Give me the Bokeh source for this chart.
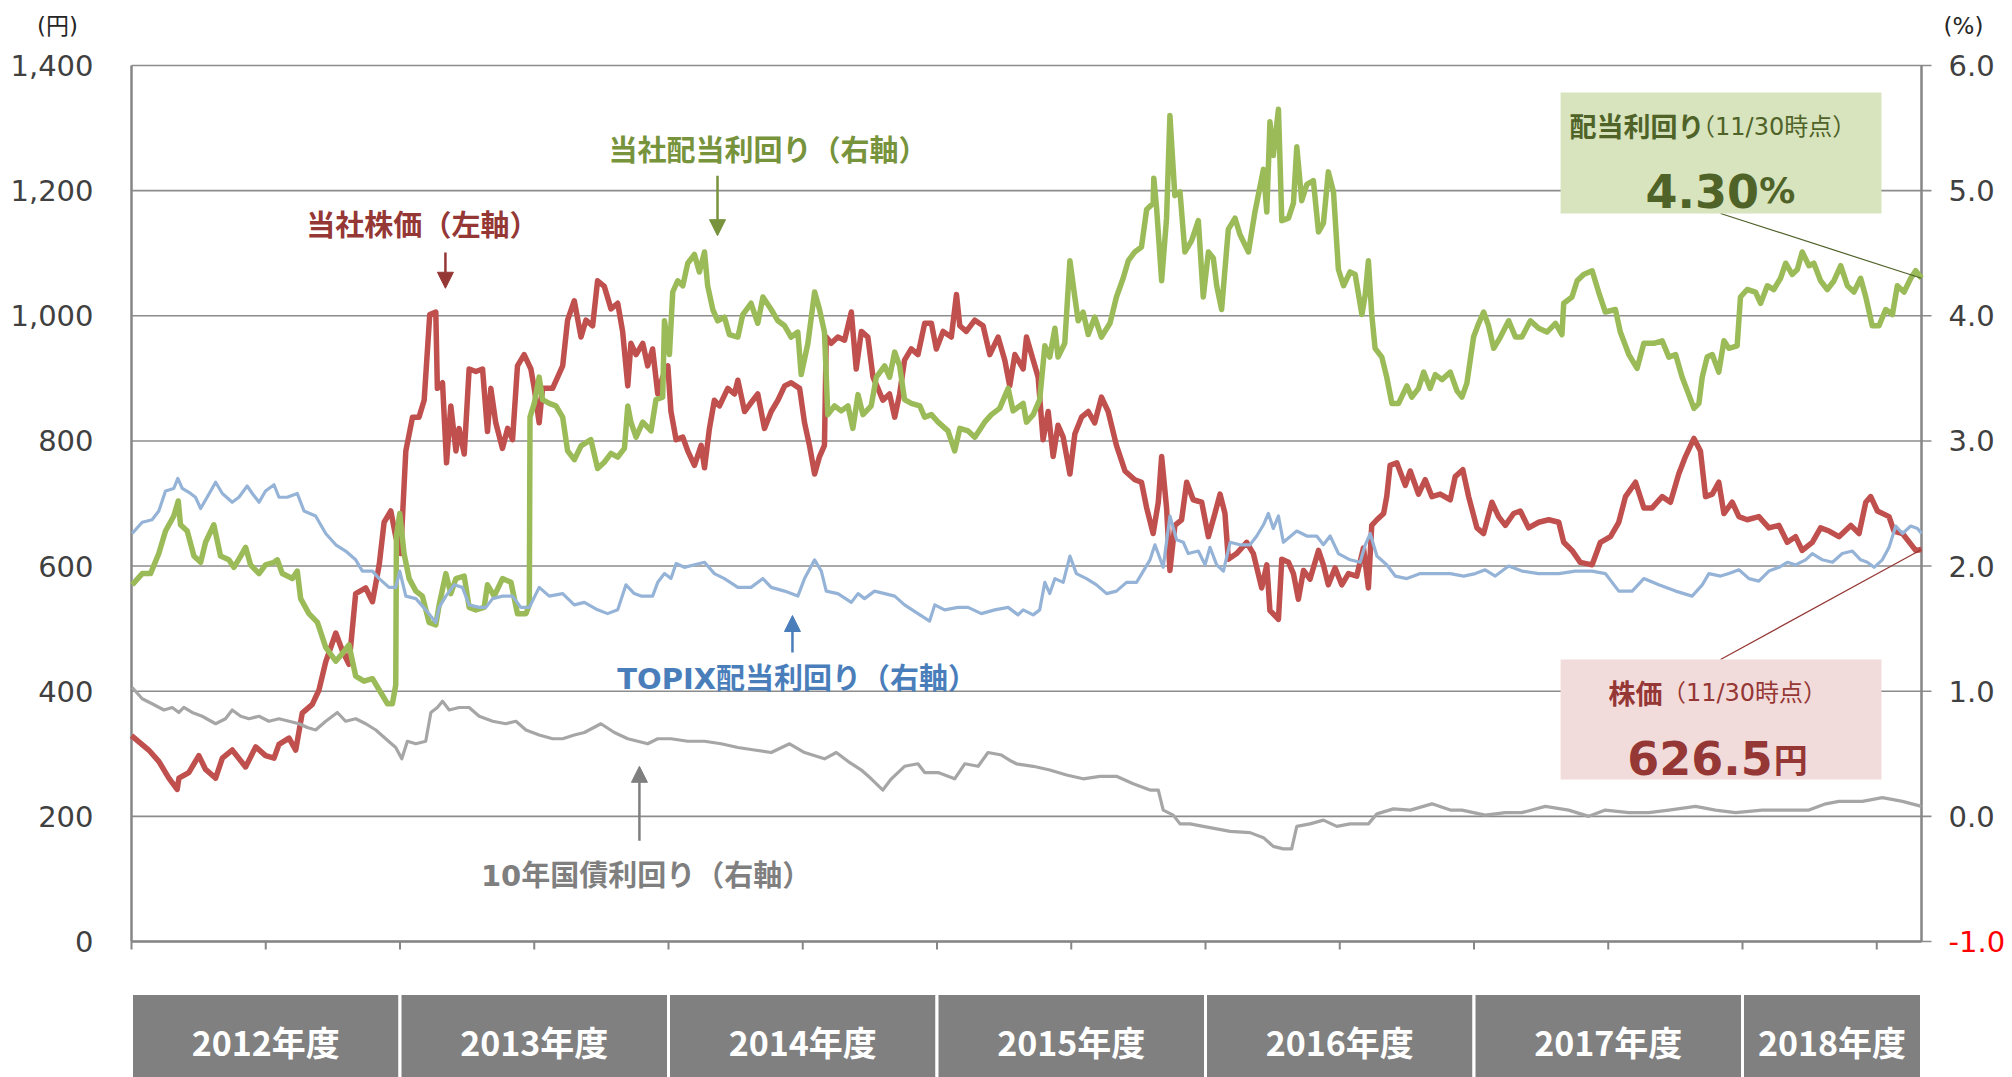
from bokeh.plotting import figure
from bokeh.models import Range1d, Label, Arrow, NormalHead
from bokeh.core.properties import value
from bokeh.embed import file_html
from bokeh.resources import INLINE

# ---------------- data (x = months since 2012-04-01) ----------------
fiscal_years = ["2012年度", "2013年度", "2014年度", "2015年度", "2016年度", "2017年度", "2018年度"]
fy_start_month = [0, 12, 24, 36, 48, 60, 72]
last_month = 80  # 2018-11-30

left_ticks = [0, 200, 400, 600, 800, 1000, 1200, 1400]
right_ticks = [-1, 0, 1, 2, 3, 4, 5, 6]
unit_labels = ["(円)", "(%)"]

# 当社株価 (円, left axis)
price = [
    (0.0,329),(0.77,306),(1.22,288),(1.67,261),(2.04,243),(2.12,261),(2.56,270),(3.01,297),
    (3.31,275),(3.76,261),(4.06,293),(4.50,306),(5.10,279),(5.55,311),(5.99,297),(6.37,293),
    (6.59,315),(7.04,325),(7.34,306),(7.63,365),(8.08,379),(8.38,402),(8.68,447),(9.13,493),
    (9.42,465),(9.72,443),(10.02,556),(10.47,565),(10.77,543),(11.07,602),(11.29,670),(11.59,688),
    (11.81,647),(12.03,620),(12.26,784),(12.56,838),(12.85,838),(13.08,865),(13.33,1002),(13.60,1006),
    (13.67,884),(13.90,893),(14.08,765),(14.27,856),(14.50,784),(14.64,820),(14.87,779),(15.09,915),
    (15.39,911),(15.69,915),(15.91,815),(16.06,884),(16.28,829),(16.58,788),(16.81,820),(17.03,802),
    (17.25,920),(17.55,938),(17.85,915),(18.00,884),(18.22,829),(18.37,884),(18.82,884),(19.27,920),
    (19.49,993),(19.79,1024),(20.09,966),(20.31,993),(20.61,984),(20.83,1056),(21.13,1047),(21.43,1011),
    (21.73,1020),(21.95,975),(22.18,888),(22.32,956),(22.55,938),(22.85,956),(23.07,920),(23.29,947),
    (23.52,875),(23.74,902),(23.97,920),(24.11,847),(24.34,802),(24.64,806),(24.86,784),(25.16,761),
    (25.46,793),(25.61,757),(25.83,820),(26.05,865),(26.28,856),(26.65,884),(26.95,875),(27.10,897),
    (27.40,847),(27.69,861),(27.99,875),(28.29,820),(28.59,847),(28.89,865),(29.19,888),(29.48,893),
    (29.86,884),(30.08,829),(30.30,793),(30.53,747),(30.75,775),(30.97,793),(31.05,966),(31.27,956),
    (31.57,966),(31.87,961),(32.17,1006),(32.39,915),(32.62,975),(32.91,966),(33.14,902),(33.36,884),
    (33.58,865),(33.88,875),(34.11,838),(34.33,875),(34.55,929),(34.85,947),(35.15,938),(35.45,988),
    (35.75,988),(35.97,947),(36.27,975),(36.64,966),(36.87,1034),(37.02,984),(37.31,975),(37.69,993),
    (38.06,984),(38.36,938),(38.73,966),(39.03,929),(39.25,888),(39.48,938),(39.85,915),(40.00,966),
    (40.30,929),(40.52,902),(40.74,802),(40.97,847),(41.19,775),(41.41,825),(41.64,806),(41.94,747),
    (42.16,811),(42.46,838),(42.76,847),(43.05,829),(43.35,870),(43.65,847),(44.02,793),(44.40,752),
    (44.84,738),(45.14,734),(45.37,693),(45.66,652),(45.89,702),(46.04,775),(46.26,693),(46.41,593),
    (46.63,665),(46.93,674),(47.16,734),(47.45,706),(47.83,702),(48.13,647),(48.42,684),(48.65,715),
    (48.87,684),(49.02,611),(49.39,620),(49.84,638),(50.14,620),(50.51,565),(50.74,602),(50.88,529),
    (51.26,515),(51.41,611),(51.71,606),(51.93,588),(52.15,547),(52.38,593),(52.67,579),(53.05,625),
    (53.27,602),(53.49,570),(53.79,597),(54.09,570),(54.39,588),(54.76,584),(55.06,629),(55.28,565),
    (55.43,665),(55.66,674),(55.96,684),(56.10,711),(56.25,761),(56.55,765),(56.93,729),(57.15,752),
    (57.52,715),(57.82,738),(58.12,711),(58.49,715),(58.94,706),(59.16,743),(59.50,754),(59.76,711),
    (60.13,661),(60.43,652),(60.80,702),(61.10,679),(61.40,665),(61.77,684),(62.07,688),(62.44,661),
    (62.89,670),(63.34,674),(63.79,670),(64.01,638),(64.38,625),(64.75,606),(65.28,602),(65.65,638),
    (66.10,647),(66.47,670),(66.77,711),(67.22,734),(67.59,693),(67.96,693),(68.41,711),(68.78,702),
    (69.15,747),(69.45,775),(69.83,804),(70.12,784),(70.35,711),(70.65,715),(70.94,734),(71.17,684),
    (71.54,702),(71.84,679),(72.21,674),(72.73,679),(73.18,661),(73.63,665),(74.00,638),(74.37,647),
    (74.67,625),(75.12,638),(75.49,661),(75.87,656),(76.31,647),(76.84,665),(77.21,652),(77.51,702),
    (77.73,711),(78.03,688),(78.55,679),(78.77,656),(79.15,652),(79.74,625),(80.0,626.5),
]

# 当社配当利回り (%, right axis)
div_yield = [
    (0.03,1.85),(0.48,1.94),(0.85,1.94),(1.22,2.10),(1.52,2.28),(1.89,2.40),(2.09,2.52),(2.19,2.33),
    (2.49,2.28),(2.79,2.08),(3.09,2.03),(3.31,2.19),(3.68,2.33),(3.98,2.08),(4.35,2.05),(4.58,1.99),
    (4.88,2.08),(5.10,2.15),(5.32,2.01),(5.70,1.94),(5.99,2.01),(6.37,2.03),(6.52,2.05),(6.74,1.94),
    (7.19,1.90),(7.41,1.96),(7.56,1.74),(7.93,1.62),(8.31,1.55),(8.68,1.35),(9.13,1.24),(9.42,1.30),
    (9.72,1.37),(10.02,1.12),(10.39,1.08),(10.77,1.10),(11.14,0.99),(11.44,0.90),(11.66,0.90),(11.81,1.05),
    (11.84,2.24),(11.99,2.42),(12.18,2.10),(12.41,1.90),(12.71,1.80),(13.00,1.76),(13.30,1.55),(13.60,1.53),
    (13.75,1.69),(14.05,1.94),(14.27,1.78),(14.50,1.90),(14.87,1.92),(15.09,1.67),(15.39,1.65),(15.76,1.67),
    (15.91,1.85),(16.21,1.76),(16.58,1.90),(16.96,1.87),(17.25,1.62),(17.63,1.62),(17.78,1.69),(17.81,3.19),
    (18.00,3.30),(18.22,3.51),(18.37,3.33),(18.67,3.30),(18.97,3.28),(19.27,3.19),(19.49,2.92),(19.79,2.85),
    (20.09,2.96),(20.53,3.01),(20.83,2.78),(21.13,2.83),(21.43,2.90),(21.73,2.87),(22.03,2.94),(22.18,3.28),
    (22.32,3.15),(22.55,3.03),(22.85,3.15),(23.22,3.08),(23.44,3.33),(23.74,3.35),(23.82,3.96),(24.04,3.69),
    (24.19,4.19),(24.41,4.28),(24.64,4.24),(24.86,4.42),(25.16,4.49),(25.38,4.35),(25.61,4.51),(25.75,4.24),
    (25.98,4.05),(26.20,3.96),(26.50,3.99),(26.72,3.85),(27.10,3.83),(27.32,4.01),(27.69,4.10),(27.99,3.94),
    (28.22,4.15),(28.59,4.05),(28.89,3.96),(29.19,3.92),(29.48,3.83),(29.78,3.87),(29.93,3.53),(30.23,3.78),
    (30.53,4.19),(30.75,4.05),(30.97,3.87),(31.12,3.21),(31.42,3.28),(31.72,3.24),(32.02,3.28),(32.24,3.10),
    (32.47,3.37),(32.69,3.21),(33.06,3.28),(33.29,3.51),(33.66,3.60),(33.88,3.51),(34.11,3.71),(34.33,3.60),
    (34.55,3.33),(34.85,3.30),(35.23,3.28),(35.45,3.19),(35.75,3.21),(36.05,3.15),(36.49,3.08),(36.79,2.92),
    (37.02,3.10),(37.39,3.08),(37.69,3.03),(38.13,3.15),(38.43,3.21),(38.80,3.26),(39.18,3.42),(39.40,3.24),
    (39.85,3.30),(40.00,3.15),(40.30,3.21),(40.59,3.33),(40.82,3.76),(41.04,3.67),(41.27,3.90),(41.41,3.67),
    (41.71,3.78),(41.94,4.44),(42.16,4.15),(42.31,3.96),(42.53,4.03),(42.76,3.85),(43.05,3.99),(43.35,3.83),
    (43.73,3.94),(44.02,4.15),(44.32,4.30),(44.55,4.44),(44.84,4.51),(45.14,4.55),(45.37,4.85),(45.66,4.90),
    (45.69,5.10),(45.81,4.87),(46.04,4.28),(46.26,4.78),(46.41,5.60),(46.63,4.96),(46.86,4.99),(47.08,4.51),
    (47.38,4.60),(47.68,4.76),(47.90,4.15),(48.13,4.51),(48.35,4.46),(48.50,4.24),(48.72,4.05),(49.02,4.69),
    (49.32,4.78),(49.54,4.65),(49.92,4.51),(50.21,4.83),(50.59,5.17),(50.74,4.83),(50.88,5.55),(51.03,5.28),
    (51.26,5.65),(51.41,4.76),(51.71,4.78),(51.93,4.90),(52.08,5.35),(52.30,4.92),(52.53,5.05),(52.82,5.08),
    (53.05,4.67),(53.27,4.74),(53.49,5.15),(53.72,4.99),(53.94,4.37),(54.17,4.24),(54.46,4.35),(54.69,4.33),
    (54.99,4.01),(55.14,4.17),(55.28,4.44),(55.43,4.01),(55.58,3.74),(55.88,3.67),(56.10,3.51),(56.33,3.30),
    (56.63,3.30),(57.00,3.44),(57.22,3.35),(57.52,3.42),(57.75,3.55),(58.04,3.42),(58.27,3.53),(58.57,3.49),
    (58.94,3.55),(59.24,3.40),(59.46,3.35),(59.68,3.46),(59.98,3.83),(60.21,3.94),(60.43,4.03),(60.65,3.92),
    (60.88,3.74),(61.18,3.83),(61.55,3.96),(61.85,3.83),(62.14,3.83),(62.52,3.96),(62.89,3.90),(63.26,3.87),
    (63.64,3.94),(63.93,3.85),(64.01,4.10),(64.38,4.15),(64.61,4.28),(64.90,4.33),(65.28,4.36),(65.57,4.19),
    (65.87,4.03),(66.32,4.05),(66.54,3.87),(66.92,3.69),(67.29,3.58),(67.59,3.78),(68.04,3.78),(68.41,3.80),
    (68.71,3.67),(69.01,3.69),(69.30,3.51),(69.60,3.37),(69.83,3.26),(70.05,3.30),(70.20,3.51),(70.42,3.67),
    (70.65,3.69),(70.94,3.55),(71.17,3.80),(71.39,3.74),(71.76,3.76),(71.91,4.15),(72.21,4.21),(72.58,4.19),
    (72.81,4.10),(73.11,4.24),(73.40,4.21),(73.70,4.30),(73.93,4.42),(74.22,4.33),(74.45,4.37),(74.67,4.51),
    (74.97,4.40),(75.19,4.42),(75.49,4.28),(75.79,4.21),(76.09,4.28),(76.39,4.40),(76.69,4.24),(76.98,4.19),
    (77.28,4.30),(77.51,4.15),(77.80,3.92),(78.10,3.92),(78.40,4.05),(78.70,4.01),(78.92,4.24),(79.22,4.19),
    (79.52,4.30),(79.74,4.36),(80.0,4.30),
]

# TOPIX配当利回り (%, right axis)
topix_yield = [
    (0.03,2.26),(0.48,2.35),(0.92,2.37),(1.22,2.44),(1.52,2.60),(1.89,2.62),(2.07,2.70),(2.27,2.62),
    (2.64,2.58),(2.86,2.55),(3.09,2.46),(3.38,2.55),(3.76,2.67),(4.06,2.58),(4.50,2.51),(4.80,2.55),
    (5.17,2.64),(5.40,2.58),(5.70,2.51),(5.99,2.60),(6.37,2.65),(6.59,2.55),(6.96,2.55),(7.41,2.58),
    (7.71,2.44),(8.23,2.40),(8.68,2.26),(9.13,2.17),(9.57,2.12),(10.02,2.05),(10.32,1.96),(10.77,1.96),
    (11.07,1.90),(11.51,1.83),(11.81,1.83),(11.99,1.96),(12.26,1.76),(12.71,1.74),(13.15,1.65),(13.60,1.55),
    (13.75,1.67),(14.05,1.76),(14.42,1.85),(14.79,1.83),(15.09,1.69),(15.54,1.67),(15.84,1.67),(16.14,1.74),
    (16.58,1.76),(17.03,1.76),(17.40,1.67),(17.78,1.67),(18.22,1.83),(18.67,1.76),(19.27,1.78),(19.79,1.69),
    (20.24,1.71),(20.83,1.65),(21.28,1.62),(21.73,1.65),(22.10,1.85),(22.47,1.78),(22.77,1.76),(23.29,1.76),
    (23.52,1.87),(23.82,1.94),(24.11,1.90),(24.34,2.02),(24.71,1.99),(25.16,2.01),(25.61,2.03),(26.05,1.94),
    (26.50,1.90),(27.10,1.83),(27.69,1.83),(28.22,1.90),(28.59,1.83),(29.19,1.80),(29.78,1.76),(30.08,1.90),
    (30.53,2.05),(30.83,1.96),(31.05,1.80),(31.57,1.78),(32.17,1.71),(32.47,1.78),(32.76,1.74),(33.21,1.80),
    (33.66,1.78),(34.11,1.76),(34.55,1.69),(35.15,1.62),(35.67,1.56),(35.90,1.69),(36.34,1.65),(36.94,1.67),
    (37.39,1.67),(37.98,1.62),(38.58,1.65),(39.18,1.67),(39.62,1.61),(39.85,1.65),(40.30,1.61),(40.59,1.65),
    (40.82,1.87),(41.04,1.78),(41.27,1.90),(41.64,1.87),(41.94,2.08),(42.23,1.94),(42.68,1.90),(43.13,1.85),
    (43.58,1.78),(44.02,1.80),(44.47,1.87),(44.92,1.87),(45.22,1.96),(45.52,2.05),(45.74,2.17),(46.11,1.99),
    (46.41,2.40),(46.71,2.21),(47.01,2.19),(47.23,2.10),(47.68,2.12),(47.98,2.01),(48.20,2.15),(48.50,2.01),
    (48.80,1.96),(49.10,2.19),(49.54,2.17),(49.99,2.17),(50.29,2.24),(50.59,2.33),(50.81,2.42),(51.03,2.30),
    (51.26,2.40),(51.48,2.19),(52.08,2.28),(52.53,2.24),(52.97,2.24),(53.27,2.17),(53.57,2.24),(53.94,2.10),
    (54.46,2.05),(54.91,2.03),(55.14,2.17),(55.36,2.26),(55.66,2.08),(56.10,2.01),(56.48,1.92),(57.00,1.90),
    (57.60,1.94),(58.19,1.94),(58.94,1.94),(59.54,1.92),(60.06,1.94),(60.50,1.97),(60.95,1.92),(61.55,2.00),
    (62.14,1.96),(62.89,1.94),(63.79,1.94),(64.53,1.96),(65.28,1.96),(65.87,1.94),(66.47,1.80),(67.07,1.80),
    (67.59,1.90),(68.26,1.85),(69.01,1.80),(69.75,1.76),(70.20,1.85),(70.50,1.94),(71.02,1.92),(71.39,1.94),
    (71.84,1.97),(72.29,1.90),(72.73,1.88),(73.18,1.96),(73.63,1.99),(74.00,2.03),(74.37,2.01),(74.82,2.05),
    (75.12,2.10),(75.57,2.05),(76.02,2.03),(76.46,2.10),(76.91,2.12),(77.28,2.05),(77.58,2.03),(77.88,1.99),
    (78.25,2.05),(78.55,2.15),(78.85,2.32),(79.15,2.26),(79.52,2.32),(79.82,2.30),(80.0,2.26),
]

# 10年国債利回り (%, right axis)
jgb_yield = [
    (0.03,1.03),(0.48,0.94),(0.92,0.90),(1.45,0.85),(1.82,0.87),(2.12,0.83),(2.34,0.87),(2.71,0.83),
    (3.16,0.80),(3.76,0.74),(4.20,0.78),(4.50,0.85),(4.88,0.80),(5.25,0.78),(5.70,0.80),(6.14,0.76),
    (6.59,0.78),(7.04,0.76),(7.49,0.74),(7.86,0.71),(8.23,0.69),(8.68,0.76),(9.20,0.83),(9.57,0.76),
    (10.02,0.78),(10.47,0.74),(10.92,0.69),(11.36,0.62),(11.81,0.55),(12.08,0.46),(12.33,0.60),(12.71,0.58),
    (13.15,0.60),(13.38,0.83),(13.67,0.87),(13.90,0.92),(14.20,0.85),(14.64,0.87),(15.09,0.87),(15.54,0.80),
    (16.14,0.76),(16.73,0.74),(17.18,0.76),(17.63,0.69),(18.22,0.65),(18.82,0.62),(19.27,0.62),(19.79,0.65),
    (20.24,0.67),(20.98,0.74),(21.58,0.67),(22.18,0.62),(23.07,0.58),(23.52,0.62),(24.11,0.62),(24.86,0.60),
    (25.61,0.60),(26.35,0.58),(27.10,0.55),(27.84,0.53),(28.59,0.51),(29.41,0.58),(30.08,0.51),(30.97,0.46),
    (31.50,0.51),(32.02,0.44),(32.62,0.37),(33.06,0.30),(33.58,0.21),(33.96,0.30),(34.55,0.40),(35.15,0.42),
    (35.45,0.35),(36.05,0.35),(36.79,0.30),(37.24,0.42),(37.84,0.40),(38.28,0.51),(38.88,0.49),(39.33,0.44),
    (39.55,0.42),(40.30,0.40),(41.04,0.37),(41.79,0.33),(42.53,0.30),(43.28,0.32),(44.02,0.32),(44.77,0.26),
    (45.52,0.21),(45.89,0.21),(46.11,0.05),(46.56,0.01),(46.86,-0.06),(47.31,-0.06),(47.90,-0.08),(48.50,-0.10),
    (49.10,-0.12),(49.99,-0.13),(50.59,-0.17),(51.03,-0.24),(51.48,-0.26),(51.85,-0.26),(52.08,-0.08),(52.67,-0.06),
    (53.27,-0.03),(53.87,-0.08),(54.46,-0.06),(55.28,-0.06),(55.66,0.02),(56.40,0.06),(57.15,0.05),(58.12,0.10),
    (58.94,0.05),(59.46,0.05),(60.50,0.01),(61.40,0.03),(62.14,0.03),(63.19,0.08),(64.23,0.05),(65.13,0.00),
    (65.87,0.05),(66.92,0.03),(67.81,0.03),(68.71,0.05),(69.90,0.08),(70.79,0.05),(71.69,0.03),(72.88,0.05),
    (74.08,0.05),(74.97,0.05),(75.72,0.10),(76.31,0.12),(77.36,0.12),(78.25,0.15),(79.15,0.12),(80.0,0.08),
]

price_note = "626.5"
yield_note = "4.30"

# ---------------- styling / layout constants ----------------
C_PRICE = "#C0504D"
C_DIV = "#9BBB59"
C_TOPIX = "#95B3D7"
C_JGB = "#A6A6A6"
T_PRICE = "#953735"
T_DIV = "#77933C"
T_TOPIX = "#4A7EBB"
T_JGB = "#7F7F7F"
JP = "Noto Sans CJK JP"
MIX = "DejaVu Sans, Noto Sans CJK JP"
NUM = "DejaVu Sans"
AX = "#868686"
GRID = "#8C8C8C"
TICK_TXT = "#404040"

W, H = 2012, 1077
PLOT_L, PLOT_R, PLOT_T, PLOT_B = 131, 1921, 65, 941   # plot area in pixels
BAND_T = 993                                         # top of the fiscal-year band
Y_MAX = left_ticks[-1]
PXM = (PLOT_R - PLOT_L) / last_month                 # pixels per month
PXV = (PLOT_B - PLOT_T) / Y_MAX                      # pixels per yen

def dx(px):
    return px / PXM

def dy(px):
    return px / PXV

# right axis value -> left axis units
R0, R1 = right_ticks[0], right_ticks[-1]
def r2l(v):
    return (v - R0) / (R1 - R0) * Y_MAX

x_range = Range1d(-dx(PLOT_L), last_month + dx(W - PLOT_R))
y_range = Range1d(-dy(H - PLOT_B), Y_MAX + dy(PLOT_T))
pct_range = Range1d(R0 + y_range.start / Y_MAX * (R1 - R0), R0 + y_range.end / Y_MAX * (R1 - R0))

p = figure(width=W, height=H, output_backend="svg", toolbar_location=None,
           x_range=x_range, y_range=y_range,
           x_axis_location=None, y_axis_location=None,
           min_border_left=0, min_border_right=0, min_border_top=0, min_border_bottom=0,
           background_fill_color="white", border_fill_color="white")
p.extra_y_ranges = {"pct": pct_range}
p.outline_line_color = None
p.grid.visible = False

# ---------------- axes ----------------
# horizontal grid lines (they run on past the right axis as its tick marks)
p.segment(x0=[0] * len(left_ticks), x1=[last_month + dx(10)] * len(left_ticks),
          y0=left_ticks, y1=left_ticks, line_color=GRID, line_width=1.6)
# axis lines
p.segment(x0=[0, last_month, 0], y0=[0, 0, 0], x1=[0, last_month, last_month],
          y1=[Y_MAX, Y_MAX, 0], line_color=AX, line_width=2.5)
# half-year tick marks on the time axis
half_year_ticks = [m + h for m in fy_start_month for h in (0, 6) if m + h < last_month]
p.segment(x0=half_year_ticks, x1=half_year_ticks, y0=[0] * len(half_year_ticks),
          y1=[-dy(8)] * len(half_year_ticks), line_color=AX, line_width=2)
# tick labels
p.text(x=[-dx(38)] * len(left_ticks), y=left_ticks, text=[f"{v:,}" for v in left_ticks],
       text_font=value(NUM), text_font_size=value("29px"), text_color=TICK_TXT,
       text_align="right", text_baseline="middle")
p.text(x=[last_month + dx(27)] * len(right_ticks), y=[r2l(v) for v in right_ticks],
       text=[f"{v:.1f}" for v in right_ticks], text_font=value(NUM), text_font_size=value("29px"),
       text_color=["#FF0000" if v < 0 else TICK_TXT for v in right_ticks],
       text_align="left", text_baseline="middle")
# unit captions
p.text(x=[-dx(74), last_month + dx(42)], y=[Y_MAX + dy(40)] * 2, text=unit_labels,
       text_font=value(MIX), text_font_size=value("23px"), text_color="#262626",
       text_align="center", text_baseline="middle")

# ---------------- series ----------------
def split(pairs):
    return [a for a, _ in pairs], [b for _, b in pairs]

pm, pv = split(price)
dm, dv = split(div_yield)
tm, tv = split(topix_yield)
jm, jv = split(jgb_yield)

p.line(pm, pv, line_color=C_PRICE, line_width=5.5, line_join="round")
p.line(dm, dv, line_color=C_DIV, line_width=5.5, line_join="round", y_range_name="pct")
p.line(tm, tv, line_color=C_TOPIX, line_width=3.2, line_join="round", y_range_name="pct")
p.line(jm, jv, line_color=C_JGB, line_width=3.2, line_join="round", y_range_name="pct")

# series labels and arrows
def series_label(x, y, txt, color):
    p.add_layout(Label(x=x, y=y, text=txt, text_font=MIX, text_font_style="bold",
                       text_font_size="29px", text_color=color, text_align="center",
                       text_baseline="middle"))

def arrow(x, y0, y1, color):
    p.add_layout(Arrow(end=NormalHead(size=16, fill_color=color, line_color=color, line_width=1),
                       x_start=x, y_start=y0, x_end=x, y_end=y1,
                       line_color=color, line_width=2.5))

series_label(13.0, 1144, "当社株価（左軸）", T_PRICE)
arrow(14.03, 1101, 1044, T_PRICE)
series_label(28.45, 1264, "当社配当利回り（右軸）", T_DIV)
arrow(26.19, 1224, 1128, T_DIV)
series_label(29.75, 420, "TOPIX配当利回り（右軸）", T_TOPIX)
arrow(29.54, 462, 521, T_TOPIX)
series_label(23.0, 105, "10年国債利回り（右軸）", T_JGB)
arrow(22.70, 161, 280, T_JGB)

# ---------------- callout boxes ----------------
p.segment(x0=[71.02], y0=[1163.5], x1=[dm[-1]], y1=[r2l(dv[-1])],
          line_color="#4F6228", line_width=1.2)
p.segment(x0=[71.02], y0=[450.7], x1=[pm[-1]], y1=[pv[-1]],
          line_color="#953735", line_width=1.2)
p.quad(left=[63.87], right=[78.21], bottom=[1163.5], top=[1357], fill_color="#D7E4BD", line_color=None)
p.quad(left=[63.87], right=[78.21], bottom=[258.9], top=[450.7], fill_color="#F2DCDB", line_color=None)

p.add_layout(Label(x=64.27, y=1304, text="配当利回り", text_font=JP, text_font_style="bold",
                   text_font_size="27px", text_color="#4F6228", text_baseline="middle"))
p.add_layout(Label(x=69.7, y=1302, text="（11/30時点）", text_font=MIX,
                   text_font_size="24px", text_color="#4F6228", text_baseline="middle"))
p.add_layout(Label(x=67.67, y=1200, text=yield_note, text_font=NUM, text_font_style="bold",
                   text_font_size="46px", text_color="#4F6228", text_baseline="alphabetic"))
p.add_layout(Label(x=72.75, y=1200, text="%", text_font=NUM, text_font_style="bold",
                   text_font_size="36px", text_color="#4F6228", text_baseline="alphabetic"))

p.add_layout(Label(x=66.01, y=398, text="株価", text_font=JP, text_font_style="bold",
                   text_font_size="27px", text_color="#953735", text_baseline="middle"))
p.add_layout(Label(x=68.4, y=397, text="（11/30時点）", text_font=MIX,
                   text_font_size="24px", text_color="#953735", text_baseline="middle"))
p.add_layout(Label(x=66.85, y=292.5, text=price_note, text_font=NUM, text_font_style="bold",
                   text_font_size="46px", text_color="#953735", text_baseline="alphabetic"))
p.add_layout(Label(x=73.4, y=292.5, text="円", text_font=JP, text_font_style="bold",
                   text_font_size="34px", text_color="#953735", text_baseline="alphabetic"))

# ---------------- fiscal-year band ----------------
fy_end = [min(m + 12, last_month) for m in fy_start_month]
band_top = -dy(BAND_T - PLOT_B)
p.quad(left=fy_start_month, right=fy_end, top=[band_top] * len(fy_start_month),
       bottom=[y_range.start - dy(5)] * len(fy_start_month),
       fill_color="#808080", line_color="white", line_width=3)
p.text(x=[(a + b) / 2 for a, b in zip(fy_start_month, fy_end)],
       y=[-dy(1040.5 - PLOT_B)] * len(fiscal_years),
       text=fiscal_years, text_font=value(JP), text_font_style="bold",
       text_font_size=value("34px"), text_color="white", text_align="center",
       text_baseline="middle")

open("out.html", "w").write(file_html(p, INLINE))
